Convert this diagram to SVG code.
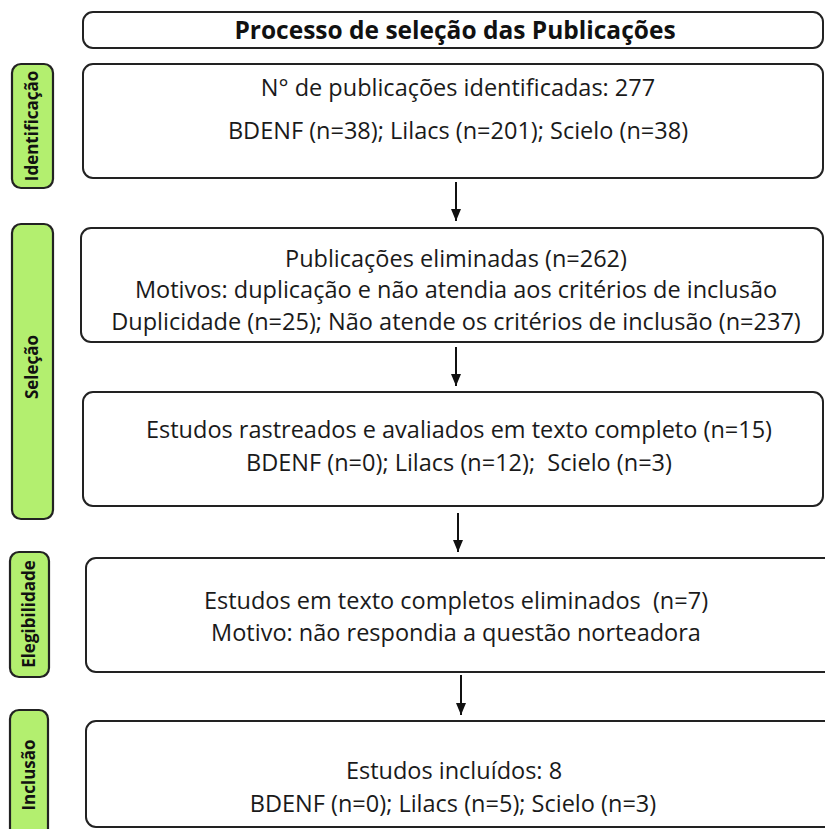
<svg xmlns="http://www.w3.org/2000/svg" width="825" height="829" viewBox="0 0 825 829">
<defs>
<marker id="ah" markerWidth="12" markerHeight="10" refX="12" refY="5" orient="auto" markerUnits="userSpaceOnUse" viewBox="0 0 12 10">
<path d="M0,0 L12,5 L0,10 Z" fill="#111"/>
</marker>
<style>
.box{fill:#fff;stroke:#222;stroke-width:2}
.pill{fill:#b3ef6f;stroke:#222;stroke-width:2.2}
.t{font-family:"Open Sans","Noto Sans",sans-serif;font-size:23.5px;fill:#1a1a1a;text-anchor:middle;white-space:pre}
.tb{font-family:"Open Sans","Noto Sans",sans-serif;font-size:24.5px;font-weight:bold;fill:#111;text-anchor:middle}
.pt{font-family:"Open Sans","Noto Sans",sans-serif;font-size:17px;font-weight:bold;fill:#111;text-anchor:middle}
.c{stroke:#111;stroke-width:2;fill:none}
</style>
</defs>
<rect width="825" height="829" fill="#fff"/>
<g id="title">
<rect class="box" x="83" y="12" width="740" height="36" rx="10"/>
<text class="tb" x="455" y="39">Processo de seleção das Publicações</text>
</g>
<g id="pill-identificacao">
<rect class="pill" x="12" y="64" width="41" height="124" rx="9"/>
<text class="pt" transform="translate(38,126) rotate(-90)">Identificação</text>
</g>
<g id="pill-selecao">
<rect class="pill" x="12" y="224" width="41" height="295" rx="9"/>
<text class="pt" transform="translate(38,367) rotate(-90)">Seleção</text>
</g>
<g id="pill-elegibilidade">
<rect class="pill" x="10" y="552" width="39" height="125" rx="9"/>
<text class="pt" transform="translate(35,614) rotate(-90)">Elegibilidade</text>
</g>
<g id="pill-inclusao">
<rect class="pill" x="10" y="710" width="38" height="130" rx="9"/>
<text class="pt" transform="translate(35,775) rotate(-90)">Inclusão</text>
</g>
<g id="box-identificacao">
<rect class="box" x="83" y="64" width="740" height="114" rx="10"/>
<text class="t" x="458" y="96">N° de publicações identificadas: 277</text>
<text class="t" x="458" y="139">BDENF (n=38); Lilacs (n=201); Scielo (n=38)</text>
</g>
<g id="box-eliminadas">
<rect class="box" x="81" y="228" width="742" height="114" rx="10"/>
<text class="t" x="456" y="267">Publicações eliminadas (n=262)</text>
<text class="t" x="456" y="298">Motivos: duplicação e não atendia aos critérios de inclusão</text>
<text class="t" x="456" y="330">Duplicidade (n=25); Não atende os critérios de inclusão (n=237)</text>
</g>
<g id="box-rastreados">
<rect class="box" x="83" y="392" width="740" height="114" rx="10"/>
<text class="t" x="459" y="438">Estudos rastreados e avaliados em texto completo (n=15)</text>
<text class="t" x="459" y="471">BDENF (n=0); Lilacs (n=12);  Scielo (n=3)</text>
</g>
<g id="box-elegibilidade">
<rect class="box" x="86" y="558" width="750" height="114" rx="10"/>
<text class="t" x="456" y="609">Estudos em texto completos eliminados  (n=7)</text>
<text class="t" x="456" y="641">Motivo: não respondia a questão norteadora</text>
</g>
<g id="box-inclusao">
<rect class="box" x="86" y="721" width="750" height="106" rx="10"/>
<text class="t" x="454" y="779">Estudos incluídos: 8</text>
<text class="t" x="453" y="812">BDENF (n=0); Lilacs (n=5); Scielo (n=3)</text>
</g>
<g id="connectors">
<line class="c" x1="456" y1="182" x2="456" y2="221" marker-end="url(#ah)"/>
<line class="c" x1="456" y1="347" x2="456" y2="386" marker-end="url(#ah)"/>
<line class="c" x1="458" y1="513" x2="458" y2="552" marker-end="url(#ah)"/>
<line class="c" x1="461" y1="675" x2="461" y2="715" marker-end="url(#ah)"/>
</g>
</svg>
